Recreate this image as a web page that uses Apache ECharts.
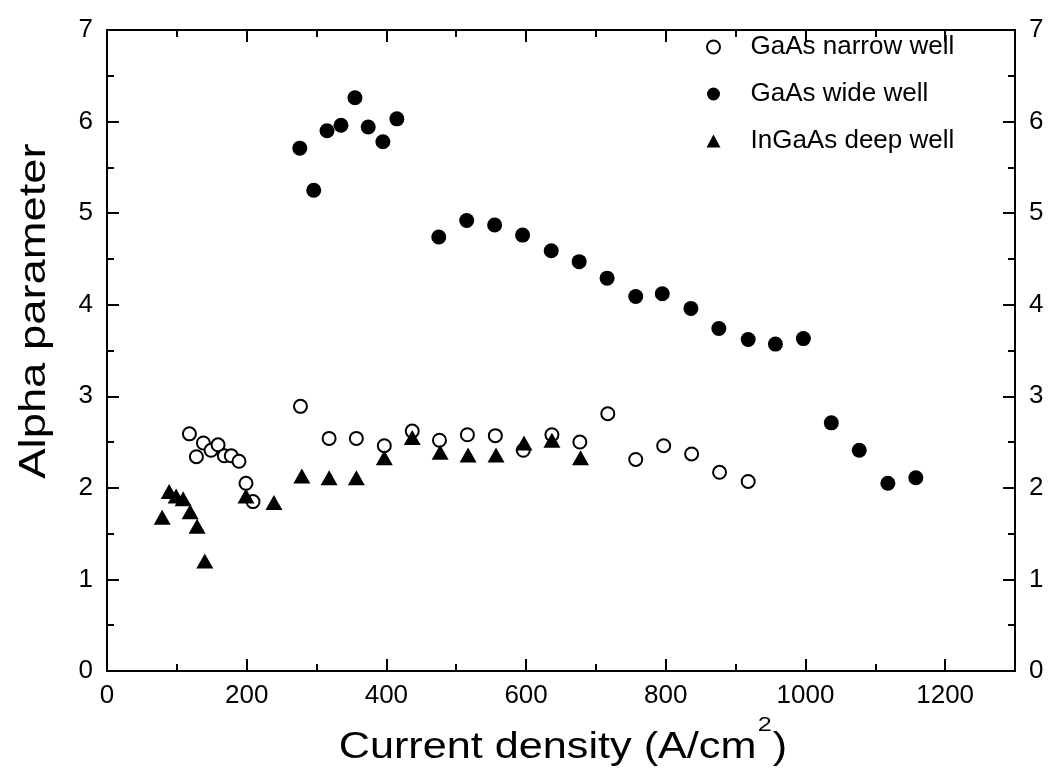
<!DOCTYPE html>
<html>
<head>
<meta charset="utf-8">
<script src="https://cdn.jsdelivr.net/npm/echarts@6/dist/echarts.min.js"></script>
<style>
  html, body { margin: 0; padding: 0; background: #fff; }
  #chart { width: 1049px; height: 773px; }
</style>
</head>
<body>
<div id="chart"></div>
<script>
// values
var seriesNames = ['GaAs narrow well', 'GaAs wide well', 'InGaAs deep well'];

var narrowX = [118, 128, 138, 149, 159, 168, 178, 189, 199, 209, 277, 318, 357, 397, 437, 476, 516, 556, 596, 637, 677, 717, 757, 797, 837, 877, 918];
var narrowY = [2.59, 2.34, 2.49, 2.41, 2.47, 2.35, 2.35, 2.29, 2.05, 1.85, 2.89, 2.54, 2.54, 2.46, 2.62, 2.52, 2.58, 2.57, 2.41, 2.58, 2.50, 2.81, 2.31, 2.46, 2.37, 2.17, 2.07];

var wideX = [276, 296, 315, 335, 355, 374, 395, 415, 475, 515, 555, 595, 636, 676, 716, 757, 795, 836, 876, 918, 957, 997, 1037, 1077, 1118, 1158];
var wideY = [5.71, 5.25, 5.90, 5.96, 6.26, 5.94, 5.78, 6.03, 4.74, 4.92, 4.87, 4.76, 4.59, 4.47, 4.29, 4.09, 4.12, 3.96, 3.74, 3.62, 3.57, 3.63, 2.71, 2.41, 2.05, 2.11];

var deepX = [79, 89, 99, 109, 119, 129, 140, 199, 239, 279, 318, 357, 397, 437, 477, 517, 557, 597, 637, 678];
var deepY = [1.68, 1.96, 1.91, 1.88, 1.74, 1.58, 1.20, 1.91, 1.84, 2.13, 2.11, 2.11, 2.33, 2.55, 2.39, 2.36, 2.36, 2.49, 2.52, 2.33];

var xTicks = { min: 0, max: 1300, interval: 200 };
var yTicks = { min: 0, max: 7, interval: 1 };

function pairs(xs, ys) {
  return xs.map(function (x, i) { return [x, ys[i]]; });
}

var font = '"Liberation Sans", Arial, sans-serif';
var black = '#000';

function xAxisBase(pos, showLabel) {
  return {
    type: 'value',
    position: pos,
    min: xTicks.min,
    max: xTicks.max,
    interval: xTicks.interval,
    axisLine: { show: true, onZero: false, lineStyle: { color: black, width: 2 } },
    axisTick: { show: true, inside: true, length: 12, lineStyle: { color: black, width: 2 } },
    minorTick: { show: true, splitNumber: 2, length: 7, lineStyle: { color: black, width: 2 } },
    splitLine: { show: false },
    axisLabel: {
      show: showLabel, showMaxLabel: false, margin: 12,
      color: black, fontSize: 26, fontFamily: font,
      formatter: function (v) { return String(v); }
    }
  };
}

function yAxisBase(pos) {
  return {
    type: 'value',
    position: pos,
    min: yTicks.min,
    max: yTicks.max,
    interval: yTicks.interval,
    axisLine: { show: true, onZero: false, lineStyle: { color: black, width: 2 } },
    axisTick: { show: true, inside: true, length: 12, lineStyle: { color: black, width: 2 } },
    minorTick: { show: true, splitNumber: 2, length: 7, lineStyle: { color: black, width: 2 } },
    splitLine: { show: false },
    axisLabel: { margin: 14, color: black, fontSize: 26, fontFamily: font }
  };
}

var chart = echarts.init(document.getElementById('chart'), null, { renderer: 'canvas' });

chart.setOption({
  backgroundColor: '#fff',
  animation: false,
  grid: { left: 107, right: 34, top: 30, bottom: 102, containLabel: false },
  xAxis: [xAxisBase('bottom', true), xAxisBase('top', false)],
  yAxis: [yAxisBase('left'), yAxisBase('right')],
  legend: {
    orient: 'vertical',
    left: 701,
    top: 29,
    itemWidth: 14,
    itemHeight: 13,
    itemGap: 21,
    textStyle: { color: black, fontSize: 26, fontFamily: font, padding: [0, 0, 0, 25] },
    data: seriesNames
  },
  graphic: [
    {
      type: 'text',
      x: 35,
      y: 311,
      rotation: Math.PI / 2,
      scaleX: 1.26,
      style: {
        text: 'Alpha parameter', fill: black, fontSize: 36, fontFamily: font,
        align: 'center', verticalAlign: 'middle'
      }
    },
    {
      type: 'text',
      x: 563,
      y: 715,
      scaleX: 1.2,
      style: {
        text: '{a|Current density (A/cm}{s|2}{a|)}',
        align: 'center',
        verticalAlign: 'top',
        rich: {
          a: { fontSize: 36, fontFamily: font, fill: black },
          s: { fontSize: 21, fontFamily: font, fill: black, padding: [0, 1, 46, 1] }
        }
      }
    }
  ],
  series: [
    {
      name: seriesNames[0],
      type: 'scatter',
      symbol: 'emptyCircle',
      symbolSize: 13,
      itemStyle: { color: black, borderColor: black, borderWidth: 2, opacity: 1 },
      data: pairs(narrowX, narrowY)
    },
    {
      name: seriesNames[1],
      type: 'scatter',
      symbol: 'circle',
      symbolSize: 15,
      itemStyle: { color: black, opacity: 1 },
      data: pairs(wideX, wideY)
    },
    {
      name: seriesNames[2],
      type: 'scatter',
      symbol: 'triangle',
      symbolSize: [17, 15],
      itemStyle: { color: black, opacity: 1 },
      data: pairs(deepX, deepY)
    }
  ]
});
</script>
</body>
</html>
